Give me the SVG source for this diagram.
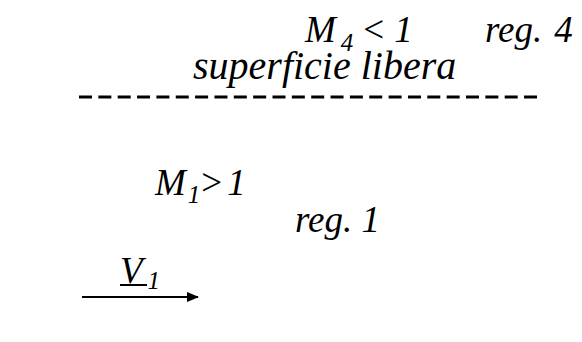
<svg xmlns="http://www.w3.org/2000/svg" width="582" height="342" viewBox="0 0 582 342">
<style>
text{font-family:"Liberation Serif","Times New Roman",serif;font-style:italic;fill:#000}
.t{font-size:37px}
.b{font-size:40px}
.s{font-size:25px}
.u{font-style:normal}
</style>
<defs>
<marker id="ah" markerWidth="12" markerHeight="10" refX="11" refY="5" orient="auto" markerUnits="userSpaceOnUse">
<path d="M0,0 L12,5 L0,10 Z" fill="#000"/>
</marker>
</defs>
<rect width="582" height="342" fill="#fff"/>
<g id="reg4">
<text class="t" x="305" y="42">M<tspan class="s" dx="5" dy="9">4</tspan><tspan class="u" dx="10" dy="-9">&lt;</tspan><tspan dx="10">1</tspan></text>
<text class="t" x="485" y="42">reg.<tspan dx="12">4</tspan></text>
</g>
<g id="surface">
<text class="b" x="193" y="79">superficie libera</text>
</g>
<g id="reg1">
<text class="t" x="155" y="195">M<tspan class="s" dx="2" dy="8">1</tspan><tspan class="u" dx="1" dy="-8">&gt;</tspan><tspan dx="5">1</tspan></text>
<text class="t" x="295" y="232">reg. 1</text>
</g>
<g id="velocity">
<text class="t" x="120" y="283">V<tspan class="s" dx="5" dy="6">1</tspan></text>
<line x1="120" y1="285" x2="147" y2="285" stroke="#000" stroke-width="2"/>
</g>
<g id="connectors">
<line x1="79" y1="97" x2="537" y2="97" stroke="#000" stroke-width="3" stroke-dasharray="13 6.35"/>
<line x1="82" y1="297" x2="198" y2="297" stroke="#000" stroke-width="2" marker-end="url(#ah)"/>
</g>
</svg>
